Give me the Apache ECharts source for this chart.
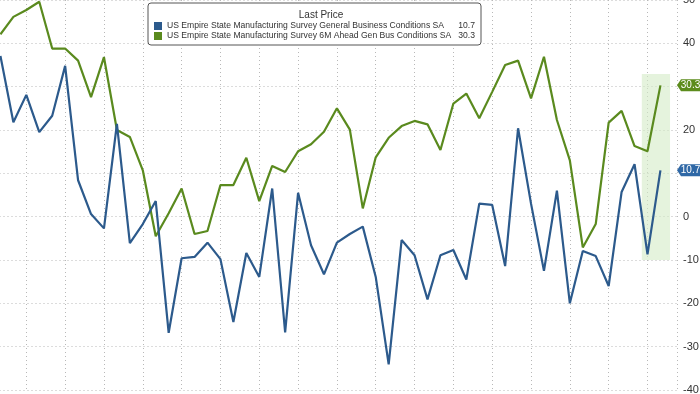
<!DOCTYPE html>
<html>
<head>
<meta charset="utf-8">
<script src="https://cdn.jsdelivr.net/npm/echarts@6/dist/echarts.min.js"></script>
<style>
html,body{margin:0;padding:0;background:#fff;}
#c{width:700px;height:394px;}
</style>
</head>
<body>
<div id="c"></div>
<script>
const seriesNames = [
  'US Empire State Manufacturing Survey General Business Conditions SA',
  'US Empire State Manufacturing Survey 6M Ahead Gen Bus Conditions SA'
];
const generalBusiness = [37.1, 21.8, 28.1, 19.5, 23.3, 34.8, 8.4, 0.6, -2.7, 21.4,
  -6.1, -1.7, 3.6, -26.8, -9.6, -9.3, -6.0, -9.8, -24.3, -8.4,
  -13.9, 6.5, -26.7, 5.5, -6.6, -13.3, -6.0, -4.0, -2.3, -13.9,
  -34.1, -5.4, -8.9, -19.1, -8.9, -7.7, -14.5, 3.0, 2.7, -11.4,
  20.4, 3.0, -12.5, 6.0, -20.0, -7.9, -9.1, -16.0, 5.7, 12.1,
  -8.7, 10.7];
const sixMonthAhead = [42.1, 46.1, 47.7, 49.6, 38.8, 38.8, 36.0, 27.6, 36.8, 20.0,
  18.4, 10.7, -4.5, 0.8, 6.5, -4.0, -3.3, 7.3, 7.3, 13.6,
  3.6, 11.7, 10.3, 15.1, 16.7, 19.6, 25.0, 20.1, 1.9, 13.7,
  18.2, 20.9, 22.1, 21.3, 15.4, 26.1, 28.4, 22.7, 28.8, 35.0,
  36.0, 27.3, 36.9, 22.3, 13.0, -7.1, -1.7, 21.7, 24.4, 16.3,
  15.1, 30.3];
const lastValues = ['10.7', '30.3'];
const yTicks = {min: -40, max: 50, interval: 10};
const highlightRange = {x0: 50.56, x1: 52.74, y0: -10, y1: 32.9};

const colors = ['#2c5a8c', '#5a8a1e'];
const xMax = 53.28;
const toPairs = arr => arr.map((v, i) => [i + 1, v]);

const FONT = 'Liberation Sans, Arial, sans-serif';

function badge(value, color) {
  return {
    symbol: 'path://M0,6 L4,0 L26,0 L26,12 L4,12 Z',
    symbolSize: [26, 12],
    symbolKeepAspect: false,
    symbolOffset: [13, 0],
    silent: true,
    data: [{coord: [xMax, Number(value)], value: value}],
    itemStyle: {color: color},
    label: {show: true, position: 'inside', offset: [0.5, 0], color: '#fff',
      fontSize: 10, fontFamily: FONT, formatter: value}
  };
}

const chart = echarts.init(document.getElementById('c'), null, {renderer: 'canvas'});
chart.setOption({
  animation: false,
  backgroundColor: '#fff',
  grid: {left: -12.5, right: 23, top: 0, bottom: 4, containLabel: false, outerBoundsMode: 'none'},
  title: {
    text: 'Last Price', left: 316, top: 5, textAlign: 'center',
    textStyle: {fontSize: 10, fontWeight: 'normal', color: '#333', fontFamily: FONT}
  },
  legend: {
    orient: 'vertical', left: 148, top: 3,
    padding: [18, 6, 4, 6],
    itemGap: 0, itemWidth: 8, itemHeight: 8, icon: 'rect',
    backgroundColor: '#fff', borderColor: '#555', borderWidth: 1, borderRadius: 3,
    data: seriesNames,
    formatter: function (name) {
      const i = seriesNames.indexOf(name);
      return '{n|' + name + '}{v|' + lastValues[i] + '}';
    },
    textStyle: {
      fontFamily: FONT, fontSize: 8.6, color: '#333', lineHeight: 10,
      rich: {
        n: {fontFamily: FONT, fontSize: 8.6, color: '#333', width: 289, lineHeight: 10},
        v: {fontFamily: FONT, fontSize: 8.6, color: '#333', width: 19, align: 'right', lineHeight: 10}
      }
    }
  },
  xAxis: {
    type: 'value', min: 0, max: xMax, interval: 3,
    axisLine: {show: false}, axisTick: {show: false}, axisLabel: {show: false},
    splitLine: {show: true, lineStyle: {color: '#b8b8b8', type: [1, 3], width: 1}}
  },
  yAxis: {
    type: 'value', position: 'right',
    min: yTicks.min, max: yTicks.max, interval: yTicks.interval,
    axisLine: {show: true, lineStyle: {color: '#6f8fae', width: 1}},
    axisTick: {show: true, length: 4, lineStyle: {color: '#4a6d94'}},
    minorTick: {show: true, splitNumber: 2, length: 3, lineStyle: {color: '#6f8fae'}},
    axisLabel: {show: true, margin: 6, fontSize: 11, color: '#333', fontFamily: FONT},
    splitLine: {show: true, lineStyle: {color: '#b8b8b8', type: [1, 3], width: 1}}
  },
  series: [
    {
      name: seriesNames[0], type: 'line', data: toPairs(generalBusiness),
      showSymbol: false, symbol: 'none', z: 3,
      lineStyle: {color: colors[0], width: 2.2}, itemStyle: {color: colors[0]},
      markPoint: badge(lastValues[0], '#2f68a6')
    },
    {
      name: seriesNames[1], type: 'line', data: toPairs(sixMonthAhead),
      showSymbol: false, symbol: 'none', z: 2,
      lineStyle: {color: colors[1], width: 2.2}, itemStyle: {color: colors[1]},
      markArea: {
        silent: true,
        itemStyle: {color: 'rgba(212,235,198,0.6)'},
        data: [[{coord: [highlightRange.x0, highlightRange.y0]}, {coord: [highlightRange.x1, highlightRange.y1]}]]
      },
      markPoint: badge(lastValues[1], '#5c8c1c')
    }
  ]
});
</script>
</body>
</html>
